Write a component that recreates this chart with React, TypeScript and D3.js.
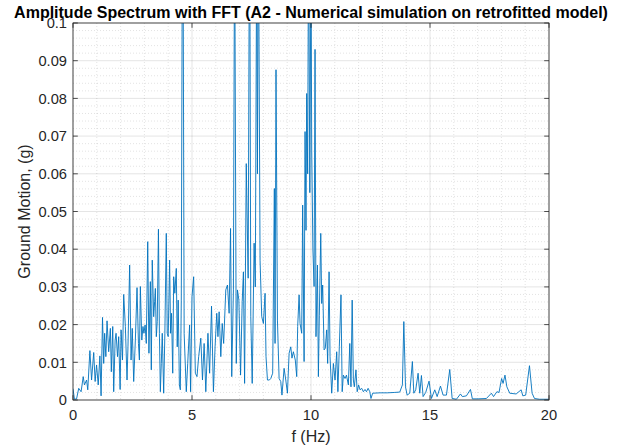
import React from "react";
import * as d3 from "d3";

const freqHz = [
  0.00, 0.06, 0.15, 0.24, 0.34, 0.43, 0.48, 0.57, 0.62, 0.71, 0.78, 0.87, 0.93, 0.99,
  1.06, 1.13, 1.18, 1.24, 1.29, 1.33, 1.38, 1.43, 1.50, 1.57, 1.61, 1.67, 1.71, 1.77,
  1.81, 1.87, 1.92, 1.98, 2.02, 2.08, 2.13, 2.20, 2.27, 2.31, 2.38, 2.44, 2.49, 2.55,
  2.62, 2.69, 2.75, 2.79, 2.83, 2.89, 2.94, 2.98, 3.03, 3.08, 3.14, 3.19, 3.25, 3.29,
  3.33, 3.39, 3.43, 3.46, 3.50, 3.54, 3.59, 3.63, 3.67, 3.71, 3.75, 3.81, 3.86, 3.92,
  3.96, 4.00, 4.06, 4.10, 4.14, 4.19, 4.23, 4.28, 4.34, 4.38, 4.42, 4.47, 4.51, 4.55,
  4.60, 4.63, 4.67, 4.76, 4.82, 4.90, 4.94, 5.00, 5.07, 5.14, 5.21, 5.28, 5.37, 5.44,
  5.51, 5.58, 5.67, 5.74, 5.82, 5.90, 5.97, 6.04, 6.09, 6.14, 6.21, 6.27, 6.33, 6.42,
  6.49, 6.56, 6.62, 6.67, 6.74, 6.79, 6.86, 6.91, 6.97, 7.04, 7.11, 7.16, 7.21, 7.28,
  7.36, 7.42, 7.47, 7.53, 7.61, 7.66, 7.72, 7.75, 7.79, 7.86, 7.93, 8.00, 8.07, 8.11,
  8.17, 8.25, 8.31, 8.39, 8.46, 8.49, 8.53, 8.59, 8.66, 8.73, 8.78, 8.87, 8.94, 9.01,
  9.08, 9.15, 9.20, 9.26, 9.34, 9.40, 9.44, 9.50, 9.54, 9.61, 9.65, 9.71, 9.75, 9.79,
  9.82, 9.86, 9.90, 9.95, 10.00, 10.03, 10.08, 10.13, 10.17, 10.21, 10.27, 10.31, 10.35,
  10.41, 10.45, 10.49, 10.55, 10.60, 10.66, 10.70, 10.76, 10.80, 10.87, 10.94, 11.01,
  11.08, 11.13, 11.19, 11.26, 11.31, 11.36, 11.43, 11.49, 11.57, 11.63, 11.68, 11.73,
  11.78, 11.82, 11.89, 11.94, 12.00, 12.06, 12.13, 12.20, 12.27, 12.33, 12.40, 12.47,
  12.52, 12.59, 12.90, 13.20, 13.50, 13.73, 13.84, 13.90, 13.97, 14.04, 14.15, 14.26,
  14.32, 14.40, 14.50, 14.57, 14.64, 14.71, 14.82, 14.96, 15.06, 15.20, 15.30, 15.44,
  15.55, 15.69, 15.83, 15.93, 16.11, 16.28, 16.36, 16.53, 16.70, 16.78, 17.02, 17.37,
  17.58, 17.67, 17.81, 17.90, 18.01, 18.07, 18.15, 18.23, 18.35, 18.62, 18.83, 18.90,
  19.02, 19.18, 19.29, 19.39, 19.60, 20.00,
];

const amplitudeG = [
  0.0030, 0.0002, 0.0003, 0.0031, 0.0022, 0.0062, 0.0040, 0.0053, 0.0027, 0.0131, 0.0053, 0.0126, 0.0049, 0.0093,
  0.0040, 0.0117, 0.0011, 0.0219, 0.0097, 0.0177, 0.0115, 0.0210, 0.0128, 0.0190, 0.0075, 0.0195, 0.0022, 0.0159,
  0.0177, 0.0115, 0.0168, 0.0028, 0.0186, 0.0106, 0.0280, 0.0195, 0.0053, 0.0141, 0.0358, 0.0106, 0.0190, 0.0049,
  0.0159, 0.0298, 0.0150, 0.0106, 0.0301, 0.0159, 0.0195, 0.0177, 0.0199, 0.0150, 0.0420, 0.0124, 0.0314, 0.0080,
  0.0371, 0.0221, 0.0261, 0.0296, 0.0168, 0.0208, 0.0453, 0.0177, 0.0022, 0.0097, 0.0177, 0.0018, 0.0177, 0.0442,
  0.0177, 0.0168, 0.0371, 0.0177, 0.0230, 0.0071, 0.0327, 0.0283, 0.0349, 0.0141, 0.0265, 0.0040, 0.0027, 0.0265,
  0.1350, 0.1100, 0.0177, 0.0022, 0.0097, 0.0199, 0.0022, 0.0274, 0.0327, 0.0071, 0.0062, 0.0115, 0.0164, 0.0053,
  0.0150, 0.0022, 0.0177, 0.0071, 0.0249, 0.0022, 0.0141, 0.0230, 0.0168, 0.0234, 0.0115, 0.0203, 0.0150, 0.0292,
  0.0305, 0.0230, 0.0455, 0.0062, 0.0292, 0.1300, 0.0097, 0.0292, 0.0265, 0.0066, 0.0261, 0.0340, 0.0044, 0.0627,
  0.0323, 0.1400, 0.0221, 0.0044, 0.0416, 0.0300, 0.1250, 0.0600, 0.1300, 0.0371, 0.0221, 0.0203, 0.0283, 0.0115,
  0.0053, 0.0053, 0.0057, 0.0071, 0.0561, 0.0150, 0.0876, 0.0212, 0.0057, 0.0049, 0.0013, 0.0084, 0.0053, 0.0018,
  0.0124, 0.0141, 0.0111, 0.0128, 0.0106, 0.0062, 0.0195, 0.0279, 0.0203, 0.0177, 0.0517, 0.0102, 0.0712, 0.0450,
  0.0813, 0.0600, 0.1300, 0.0550, 0.1200, 0.0663, 0.0400, 0.0301, 0.0930, 0.0168, 0.0358, 0.0062, 0.0225,
  0.0442, 0.0256, 0.0305, 0.0133, 0.0137, 0.0186, 0.0097, 0.0340, 0.0115, 0.0018, 0.0097, 0.0053,
  0.0128, 0.0022, 0.0141, 0.0279, 0.0022, 0.0066, 0.0057, 0.0066, 0.0040, 0.0150, 0.0035, 0.0265,
  0.0053, 0.0035, 0.0080, 0.0022, 0.0040, 0.0027, 0.0031, 0.0022, 0.0028, 0.0022, 0.0031, 0.0022,
  0.0004, 0.0018, 0.0019, 0.0019, 0.0020, 0.0021, 0.0040, 0.0208, 0.0035, 0.0013, 0.0018, 0.0102,
  0.0018, 0.0027, 0.0071, 0.0018, 0.0065, 0.0009, 0.0020, 0.0050, 0.0004, 0.0027, 0.0009, 0.0037,
  0.0013, 0.0013, 0.0081, 0.0004, 0.0002, 0.0016, 0.0009, 0.0011, 0.0028, 0.0003, 0.0003, 0.0004,
  0.0018, 0.0009, 0.0022, 0.0020, 0.0057, 0.0044, 0.0066, 0.0035, 0.0018, 0.0016, 0.0027, 0.0011,
  0.0013, 0.0091, 0.0018, 0.0004, 0.0002, 0.0002,
];

const xTicks = [0, 5, 10, 15, 20];
const xTickLabels = ["0", "5", "10", "15", "20"];
const yTicks = [0, 0.01, 0.02, 0.03, 0.04, 0.05, 0.06, 0.07, 0.08, 0.09, 0.1];
const yTickLabels = ["0", "0.01", "0.02", "0.03", "0.04", "0.05", "0.06", "0.07", "0.08", "0.09", "0.1"];

const titleText = "Amplitude Spectrum with FFT (A2 - Numerical simulation on retrofitted model)";
const xLabel = "f (Hz)";
const yLabel = "Ground Motion, (g)";

const W = 621;
const H = 448;
const L = 73;
const R = 549;
const T = 23;
const B = 400;
const FONT = "'Liberation Sans', Arial, Helvetica, sans-serif";
const AX = "#262626";

export default function App() {
  const x = d3.scaleLinear().domain([0, 20]).range([L, R]);
  const y = d3.scaleLinear().domain([0, 0.1]).range([B, T]);
  const pts = freqHz.map((f, i) => [f, amplitudeG[i]] as [number, number]);
  const line = d3
    .line<[number, number]>()
    .x((d) => x(d[0]))
    .y((d) => y(d[1]));
  const xMinor = d3.range(0, 21, 1).filter((v) => v % 5 !== 0);
  const yMinor = d3.range(0, 101, 2).map((v) => v / 1000).filter((v, i) => (i * 2) % 10 !== 0);
  const tl = 4.8;

  return (
    <svg
      width={W}
      height={H}
      style={{ position: "absolute", left: 0, top: 0, background: "#fff" }}
      fontFamily={FONT}
    >
      <rect x={0} y={0} width={W} height={H} fill="#ffffff" />
      <defs>
        <clipPath id="plotclip">
          <rect x={L} y={T} width={R - L} height={B - T} />
        </clipPath>
      </defs>
      {/* minor grid */}
      <g stroke={AX} strokeOpacity={0.22} strokeWidth={0.6} strokeDasharray="1 2">
        {xMinor.map((v) => (
          <line key={"xm" + v} x1={x(v)} x2={x(v)} y1={T} y2={B} />
        ))}
        {yMinor.map((v) => (
          <line key={"ym" + v} x1={L} x2={R} y1={y(v)} y2={y(v)} />
        ))}
      </g>
      {/* major grid */}
      <g stroke={AX} strokeOpacity={0.15} strokeWidth={0.8}>
        {xTicks.map((v) => (
          <line key={"xg" + v} x1={x(v)} x2={x(v)} y1={T} y2={B} />
        ))}
        {yTicks.map((v) => (
          <line key={"yg" + v} x1={L} x2={R} y1={y(v)} y2={y(v)} />
        ))}
      </g>
      {/* data */}
      <path
        d={line(pts) || ""}
        fill="none"
        stroke="#0072BD"
        strokeWidth={0.9}
        strokeLinejoin="round"
        clipPath="url(#plotclip)"
      />
      {/* box and ticks */}
      <rect x={L} y={T} width={R - L} height={B - T} fill="none" stroke={AX} strokeWidth={0.8} />
      <g stroke={AX} strokeWidth={0.8}>
        {xTicks.map((v) => (
          <g key={"xt" + v}>
            <line x1={x(v)} x2={x(v)} y1={B} y2={B - tl} />
            <line x1={x(v)} x2={x(v)} y1={T} y2={T + tl} />
          </g>
        ))}
        {yTicks.map((v) => (
          <g key={"yt" + v}>
            <line x1={L} x2={L + tl} y1={y(v)} y2={y(v)} />
            <line x1={R} x2={R - tl} y1={y(v)} y2={y(v)} />
          </g>
        ))}
      </g>
      {/* tick labels */}
      <g fill={AX} fontSize={14.67}>
        {xTicks.map((v, i) => (
          <text key={"xl" + v} x={x(v)} y={B + 19.5} textAnchor="middle">
            {xTickLabels[i]}
          </text>
        ))}
        {yTicks.map((v, i) => (
          <text key={"yl" + v} x={L - 6} y={y(v) + 5.2} textAnchor="end">
            {yTickLabels[i]}
          </text>
        ))}
      </g>
      {/* axis labels */}
      <text x={(L + R) / 2} y={442} textAnchor="middle" fontSize={16} fill={AX}>
        {xLabel}
      </text>
      <text
        transform={`translate(${30},${(T + B) / 2}) rotate(-90)`}
        textAnchor="middle"
        fontSize={16}
        fill={AX}
      >
        {yLabel}
      </text>
      {/* title */}
      <text x={(L + R) / 2} y={18} textAnchor="middle" fontSize={16} fontWeight="bold" fill="#000">
        {titleText}
      </text>
    </svg>
  );
}
